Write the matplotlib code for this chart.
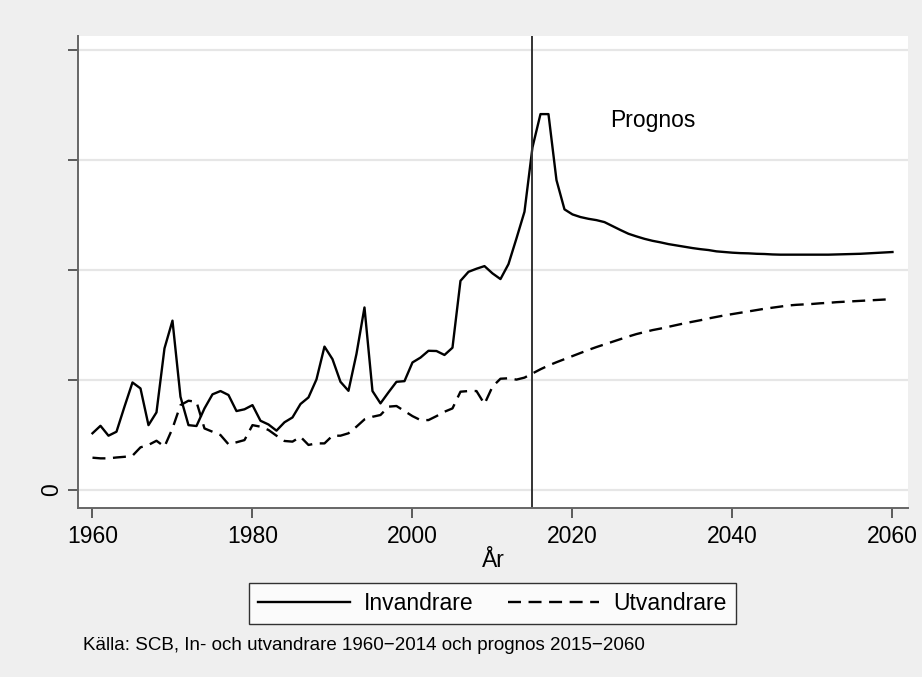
#!/usr/bin/python3
# coding: utf_8

""" Invandrare och utvandrare i Sverige 1960-2060 """

import numpy as np
import matplotlib
matplotlib.use("Agg")
import matplotlib.pyplot as plt

plt.rcParams["font.family"] = ["Liberation Sans", "DejaVu Sans"]

# data (tusental personer per år)
years = np.arange(1960, 2061)
invandrare = [
    25.8, 29.2, 24.7, 26.5, 37.9, 48.9, 46.2, 29.5, 35.3, 64.4,
    77.0, 42.4, 29.5, 29.1, 37.1, 43.5, 45.0, 43.2, 35.9, 36.7,
    38.6, 31.5, 29.8, 27.0, 30.8, 33.0, 39.1, 42.1, 50.3, 65.2,
    59.5, 49.2, 45.1, 61.9, 83.0, 45.0, 39.4, 44.4, 49.2, 49.5,
    58.0, 60.2, 63.3, 63.2, 61.4, 64.7, 95.1, 99.2, 100.6, 101.8,
    98.5, 95.9, 102.7, 114.4, 126.5, 155.8, 170.9, 170.9, 140.9, 127.6,
    125.3, 124.1, 123.3, 122.7, 121.8, 120.0, 118.2, 116.5, 115.3, 114.2,
    113.3, 112.6, 111.8, 111.2, 110.6, 110.0, 109.5, 109.1, 108.5, 108.2,
    107.9, 107.7, 107.6, 107.4, 107.3, 107.1, 107.0, 107.0, 107.0, 107.0,
    107.0, 107.0, 107.0, 107.1, 107.2, 107.3, 107.4, 107.6, 107.8, 108.0,
    108.2,
]
utvandrare = [
    14.7, 14.4, 14.4, 14.8, 15.1, 15.6, 19.4, 20.5, 22.4, 19.7,
    28.0, 38.6, 40.6, 40.1, 28.0, 26.5, 25.0, 20.8, 21.7, 22.7,
    29.5, 28.8, 27.3, 24.7, 22.3, 22.0, 24.2, 20.5, 21.2, 21.2,
    24.7, 24.7, 25.8, 28.8, 32.1, 33.3, 34.1, 37.9, 38.2, 35.9,
    33.6, 31.8, 31.8, 33.6, 35.6, 37.1, 44.7, 45.0, 45.0, 39.1,
    47.0, 50.6, 50.8, 50.2, 51.1, 53.0, 54.9, 56.6, 58.1, 59.5,
    60.9, 62.3, 63.7, 65.0, 66.2, 67.4, 68.6, 69.8, 70.9, 71.8,
    72.7, 73.4, 74.2, 75.0, 75.8, 76.5, 77.2, 78.0, 78.7, 79.4,
    80.0, 80.6, 81.2, 81.8, 82.4, 82.9, 83.4, 83.9, 84.2, 84.4,
    84.6, 84.9, 85.1, 85.4, 85.6, 85.8, 86.0, 86.2, 86.4, 86.6,
    86.7,
]
prognos_start = 2015
x_ticks = [1960, 1980, 2000, 2020, 2040, 2060]
y_ticks = [0, 50, 100, 150, 200]
y_tick_labels = ["0", "", "", "", ""]

BG = "#efefef"
FS = 16.5

fig = plt.figure(figsize=(9.22, 6.77), dpi=100, facecolor=BG)
ax = fig.add_axes([0.0846, 0.2496, 0.9002, 0.6972])
ax.set_facecolor("white")

ax.plot(years, invandrare, color="black", lw=1.7, label="Invandrare")
ax.plot(years, utvandrare, color="black", lw=1.7, dashes=(5.5, 3.2),
        label="Utvandrare")
ax.axvline(prognos_start, color="#333333", lw=1.4)
ax.text(2030.1, 168.2, "Prognos", ha="center", va="center", fontsize=FS)

ax.set_xlim(1958.19, 2061.94)
ax.set_ylim(-8.18, 206.4)
ax.set_xticks(x_ticks)
ax.set_yticks(y_ticks)
ax.set_yticklabels(y_tick_labels, rotation=90, va="center")
ax.grid(True, axis="y", color="#e6e6e6", lw=1.6)
ax.set_axisbelow(True)

for side in ["top", "right"]:
    ax.spines[side].set_visible(False)
for side in ["left", "bottom"]:
    ax.spines[side].set_color("#666666")
    ax.spines[side].set_linewidth(1.4)
ax.tick_params(axis="both", direction="out", length=7, width=1.1,
               color="#333333", labelsize=FS)
ax.tick_params(axis="x", pad=5)
ax.tick_params(axis="y", pad=4)

ax.set_xlabel("År", fontsize=FS, labelpad=1)

leg = fig.legend(loc="center", bbox_to_anchor=(0.534, 0.109), ncol=2,
                 fontsize=FS, frameon=True, fancybox=False,
                 edgecolor="black", handlelength=4.0, handletextpad=0.6,
                 columnspacing=1.5, borderpad=0.4)
leg.get_frame().set_linewidth(1.0)

fig.text(83 / 922, 1 - 646 / 677,
         "Källa: SCB, In- och utvandrare 1960−2014 och prognos 2015−2060",
         ha="left", va="center", fontsize=13.5)

fig.savefig("out.png", dpi=100, facecolor=BG)
